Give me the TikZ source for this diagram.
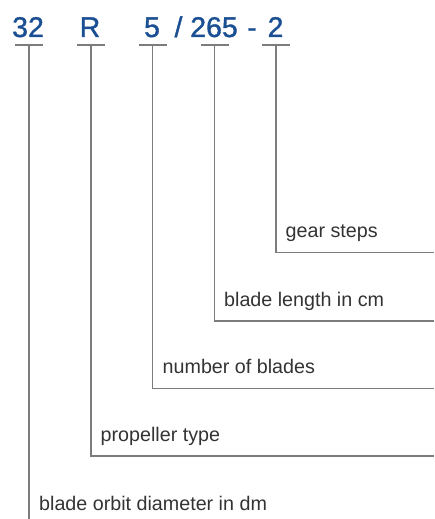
\documentclass[tikz,border=0pt]{standalone}
\usepackage{fontspec}
\setmainfont{Liberation Sans}
\newfontfamily\codefont[FakeBold=1.2]{Liberation Sans}
\definecolor{codeblue}{HTML}{1B4F93}
\definecolor{linegrey}{HTML}{7C7C7C}
\definecolor{txtgrey}{HTML}{333333}
\begin{document}
\begin{tikzpicture}[x=1pt,y=-1pt,
  code/.style={font=\codefont\fontsize{28.5}{30}\selectfont, text=codeblue, inner sep=0pt, anchor=base},
  lbl/.style={font=\fontsize{19.7}{22}\selectfont, text=txtgrey, inner sep=0pt, anchor=base west},
  ln/.style={draw=linegrey, line width=1.2pt}]
\useasboundingbox (0,0) rectangle (434,519);
% header codes
\node[code] (h32) at (28,37) {32};
\node[code] (hR) at (90,37) {R};
\node[code] (h5) at (152,37) {5};
\node[code] (hslash) at (178.5,37) {/};
\node[code] (h265) at (214,37) {265};
\node[code] (hdash) at (252,37) {-};
\node[code] (h2) at (275.5,37) {2};
% bar coordinates
\coordinate (b32) at (29,45);
\coordinate (bR) at (91,45);
\coordinate (b5) at (152.5,45);
\coordinate (b265) at (214.5,45);
\coordinate (b2) at (276,45);
% bars
\foreach \b in {b32,bR,b5,b265,b2}{
  \draw[ln] ([xshift=-14pt]\b) -- ([xshift=14pt]\b);
}
% end coordinates
\coordinate (e2) at (434,252.5);
\coordinate (e265) at (434,321);
\coordinate (e5) at (434,388.5);
\coordinate (eR) at (434,456);
\coordinate (e32) at (29,519);
% connectors
\draw[ln] (b2) |- (e2);
\draw[ln] (b265) |- (e265);
\draw[ln] (b5) |- (e5);
\draw[ln] (bR) |- (eR);
\draw[ln] (b32) -- (e32);
% labels
\node[lbl] (l2) at (285.5,237.5) {gear steps};
\node[lbl] (l265) at (224,306) {blade length in cm};
\node[lbl] (l5) at (162.5,373.5) {number of blades};
\node[lbl] (lR) at (100.5,441) {propeller type};
\node[lbl] (l32) at (39,510.5) {blade orbit diameter in dm};
\end{tikzpicture}
\end{document}
